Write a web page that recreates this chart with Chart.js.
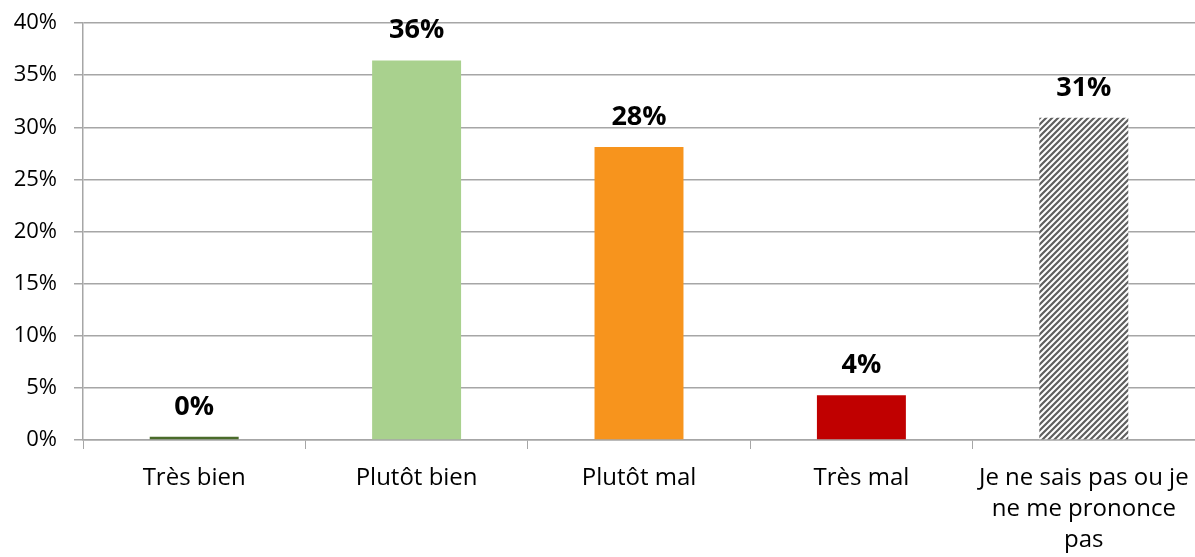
<!DOCTYPE html>
<html>
<head>
<meta charset="utf-8">
<script src="https://cdn.jsdelivr.net/npm/chart.js@4/dist/chart.umd.min.js"></script>
<style>
  html, body { margin: 0; padding: 0; background: #fff; }
  #wrap { width: 1195px; height: 557px; }
</style>
</head>
<body>
<div id="wrap"><canvas id="barChart" width="1195" height="557"></canvas></div>
<script>
// Données
const categories = [
    "Très bien",
    "Plutôt bien",
    "Plutôt mal",
    "Très mal",
    ["Je ne sais pas ou je", "ne me prononce", "pas"]
];
const values = [0.3, 36.4, 28.1, 4.3, 30.9];
const yTicks = [0, 5, 10, 15, 20, 25, 30, 35, 40];

// Motif hachuré pour la dernière barre
function makeHatch() {
    const c = document.createElement("canvas");
    c.width = 6; c.height = 6;
    const g = c.getContext("2d");
    g.fillStyle = "#ffffff";
    g.fillRect(0, 0, 6, 6);
    g.strokeStyle = "#5f5f5f";
    g.lineWidth = 2.2;
    g.beginPath();
    g.moveTo(-1, 7); g.lineTo(7, -1);
    g.moveTo(-4, 4); g.lineTo(4, -4);
    g.moveTo(2, 10); g.lineTo(10, 2);
    g.stroke();
    return g.createPattern(c, "repeat");
}

const ctx = document.getElementById("barChart").getContext("2d");
const colors = ["#4a6b2a", "#a9d18e", "#f7941d", "#c00000", makeHatch()];
const fontFamily = "'Open Sans', sans-serif";

// Étiquettes au-dessus des barres
const valueLabels = {
    id: "valueLabels",
    afterDatasetsDraw(chart) {
        const c = chart.ctx;
        const meta = chart.getDatasetMeta(0);
        c.save();
        c.font = "bold 27px " + fontFamily;
        c.fillStyle = "#000";
        c.textAlign = "center";
        c.textBaseline = "middle";
        meta.data.forEach((bar, i) => {
            c.fillText(Math.round(values[i]) + "%", bar.x, bar.y - 30);
        });
        c.restore();
    }
};

new Chart(ctx, {
    type: "bar",
    data: {
        labels: categories,
        datasets: [{
            data: values,
            backgroundColor: colors,
            borderWidth: 0,
            categoryPercentage: 1,
            barPercentage: 0.4
        }]
    },
    options: {
        responsive: false,
        animation: false,
        layout: { padding: 0 },
        plugins: {
            legend: { display: false },
            tooltip: { enabled: false }
        },
        scales: {
            x: {
                afterFit(axis) {
                    axis.height = 117;
                    axis.paddingLeft = 0;
                    axis.paddingRight = 0;
                },
                grid: {
                    offset: true,
                    drawOnChartArea: false,
                    drawTicks: true,
                    tickLength: 9,
                    color: "#a6a6a6"
                },
                border: { display: true, color: "#a6a6a6", width: 1.5 },
                ticks: {
                    color: "#000",
                    padding: 13,
                    maxRotation: 0,
                    autoSkip: false,
                    font: { family: fontFamily, size: 24, lineHeight: 1.31 }
                }
            },
            y: {
                min: 0,
                max: 40,
                afterBuildTicks(axis) {
                    axis.ticks = yTicks.map(v => ({ value: v }));
                },
                afterFit(axis) {
                    axis.width = 83;
                    axis.paddingTop = 23;
                    axis.paddingBottom = 0;
                },
                grid: {
                    color: "#a6a6a6",
                    lineWidth: 1.5,
                    tickLength: 9
                },
                border: { display: true, color: "#a6a6a6", width: 1.5 },
                ticks: {
                    color: "#000",
                    padding: 17,
                    callback: v => v + "%",
                    font: { family: fontFamily, size: 22 }
                }
            }
        }
    },
    plugins: [valueLabels]
});
</script>
</body>
</html>
